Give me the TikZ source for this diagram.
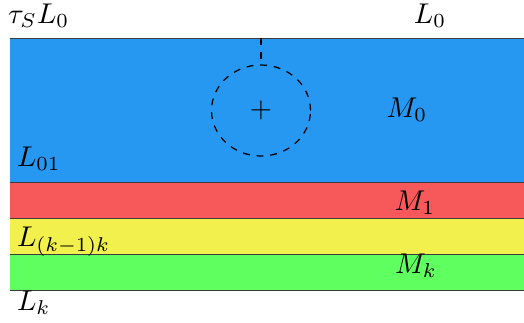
\documentclass[tikz,border=0pt]{standalone}
\usetikzlibrary{shapes.geometric}
\definecolor{bandblue}{RGB}{39,152,242}
\definecolor{bandred}{RGB}{247,88,89}
\definecolor{bandyellow}{RGB}{242,240,77}
\definecolor{bandgreen}{RGB}{94,255,94}
\definecolor{edgegray}{RGB}{60,60,60}
\tikzset{
  lbl/.style={inner sep=0pt, outer sep=0pt},
  bandline/.style={draw=edgegray, line width=0.33pt},
  dsh/.style={draw=black, line width=0.43pt, dash pattern=on 2.4pt off 2.4pt}
}
\begin{document}
\begin{tikzpicture}[x=0.35pt, y=-0.35pt]
\useasboundingbox (0,0) rectangle (524,323);
% bands
\fill[bandblue]   (10,38)  rectangle (524,182);
\fill[bandred]    (10,182) rectangle (524,218);
\fill[bandyellow] (10,218) rectangle (524,254);
\fill[bandgreen]  (10,254) rectangle (524,290);
\foreach \yy in {38,182,218,254,290} \draw[bandline] (10,\yy) -- (524,\yy);
% circle and dashed link
\coordinate (top) at (261,38);
\node[lbl, ellipse, dsh, minimum width=34.65pt, minimum height=31.85pt] (circ) at (261,110.5) {};
\draw[dsh] (top) -- (circ.north);
\node[lbl] (plus) at (261,110.5) {$+$};
% labels
\node[lbl, anchor=west] (tl) at (8,16) {$\tau_S L_0$};
\node[lbl] (tr) at (430,16) {$L_0$};
\node[lbl] (m0) at (407,110) {$M_0$};
\node[lbl, anchor=west] (l01) at (17,159) {$L_{01}$};
\node[lbl] (m1) at (415,203) {$M_1$};
\node[lbl, anchor=west] (lkk) at (17,242) {$L_{(k-1)k}$};
\node[lbl] (mk) at (416,266) {$M_k$};
\node[lbl, anchor=west] (lk) at (17,303) {$L_k$};
\end{tikzpicture}
\end{document}
